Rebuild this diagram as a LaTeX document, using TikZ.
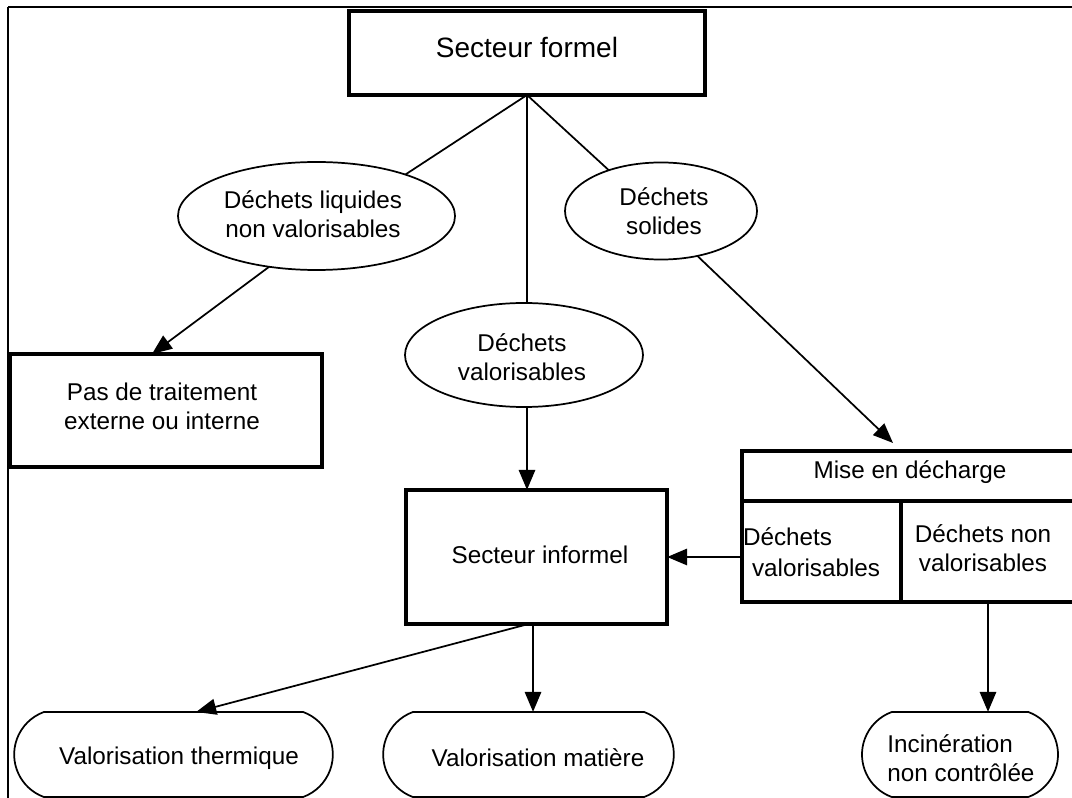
\documentclass[tikz,border=0pt]{standalone}
\usepackage{fontspec}
\setmainfont{Liberation Sans}
\usetikzlibrary{arrows.meta,shapes.geometric,shapes.misc,calc}
\newcommand\stdfont{\fontsize{18.2pt}{21.8pt}\selectfont}
\newcommand\bigfont{\fontsize{21pt}{25pt}\selectfont}
\begin{document}
\begin{tikzpicture}[x=0.75pt,y=-0.75pt,
  every node/.style={font=\stdfont, inner sep=0pt, outer sep=0pt},
  box/.style={draw, rectangle, line width=2.4pt, align=center},
  oval/.style={draw, ellipse, line width=1.3pt, align=center},
  term/.style={draw, rounded rectangle, rounded rectangle arc length=140, line width=1.3pt, align=center},
  thin/.style={line width=1.3pt},
  thick/.style={line width=2.1pt},
  arr/.style={-{Triangle[length=15pt,width=12pt]}},
  txt/.style={align=center}
]
\useasboundingbox (0,0) rectangle (1072,798);
\clip (0,0) rectangle (1072,798);
\fill[white] (0,0) rectangle (1072,798);
% frame
\draw[line width=2.2pt] (8,7) -- (1080,7);
\draw[line width=1.6pt] (8,7) -- (8,800);

% nodes
\node[box, minimum width=267pt, minimum height=63pt] (sf) at (527,53) {};
\node[font=\bigfont] (sft) at (527,47) {Secteur formel};

\node[oval, minimum width=207.8pt, minimum height=81pt] (liq) at (316.5,216) {};
\node[txt] (liqt) at (313,214) {Déchets liquides\\non valorisables};

\node[oval, minimum width=144pt, minimum height=72.8pt] (sol) at (661,211) {};
\node[txt] (solt) at (664,211) {Déchets\\solides};

\node[oval, minimum width=178.5pt, minimum height=78pt] (val) at (524,355) {};
\node[txt] (valt) at (522,357) {Déchets\\valorisables};

\node[box, minimum width=234pt, minimum height=84.8pt] (pas) at (166,410.5) {};
\node[txt] (past) at (162,406) {Pas de traitement\\externe ou interne};

\node[box, minimum width=195.8pt, minimum height=100.5pt] (inf) at (536.5,557) {};
\node (inft) at (540,555) {Secteur informel};

% Mise en decharge table
\node[box, minimum width=249.8pt, minimum height=37.5pt] (misetop) at (908.5,476) {};
\node (misett) at (910,472) {Mise en décharge};
\node[box, minimum width=119.3pt, minimum height=75.8pt] (miseleft) at (821.5,551.5) {};
\node[box, minimum width=130.5pt, minimum height=75.8pt] (miseright) at (988,551.5) {};
\node[anchor=base west] (dv1) at (743,546) {Déchets};
\node[anchor=base west] (dv2) at (752,577) {valorisables};
\node[txt] (dnv) at (983,548) {Déchets non\\valorisables};

% terminals
\node[term, minimum width=239pt, minimum height=63.8pt] (vt) at (173.5,754.5) {};
\node (vtt) at (179,758) {Valorisation thermique};
\node[term, minimum width=218pt, minimum height=63.8pt] (vm) at (528.5,754.5) {};
\node (vmt) at (538,758) {Valorisation matière};
\node[term, minimum width=147pt, minimum height=63.8pt] (inc) at (960,754.5) {};
\node[align=left] (inct) at (961,758) {Incinération\\non contrôlée};

% connectors
\draw[thin] (sf.south) -- (liq.25);
\draw[thin] (sf.south) -- (sol.142);
\draw[thick] (sf.south) -- (sf.south |- val.north);
\draw[thin,arr] (liq.227) -- ([xshift=-10.5pt]pas.north);
\draw[thin,arr] (sol.-51) -- ([xshift=-11.6pt,yshift=6pt]misetop.north);
\draw[thick,arr] (sf.south |- val.south) -- (sf.south |- inf.north);
\draw[thick,arr] (miseleft.west |- inf.east) -- (inf.east);
\draw[thin,arr] ([xshift=-6pt]inf.south) -- ([xshift=17pt]vt.north);
\draw[thick,arr] ([xshift=-2.6pt]inf.south) -- ([xshift=-2.6pt]inf.south |- vm.north);
\draw[thick,arr] (miseright.south) -- (miseright.south |- inc.north);
\end{tikzpicture}
\end{document}
